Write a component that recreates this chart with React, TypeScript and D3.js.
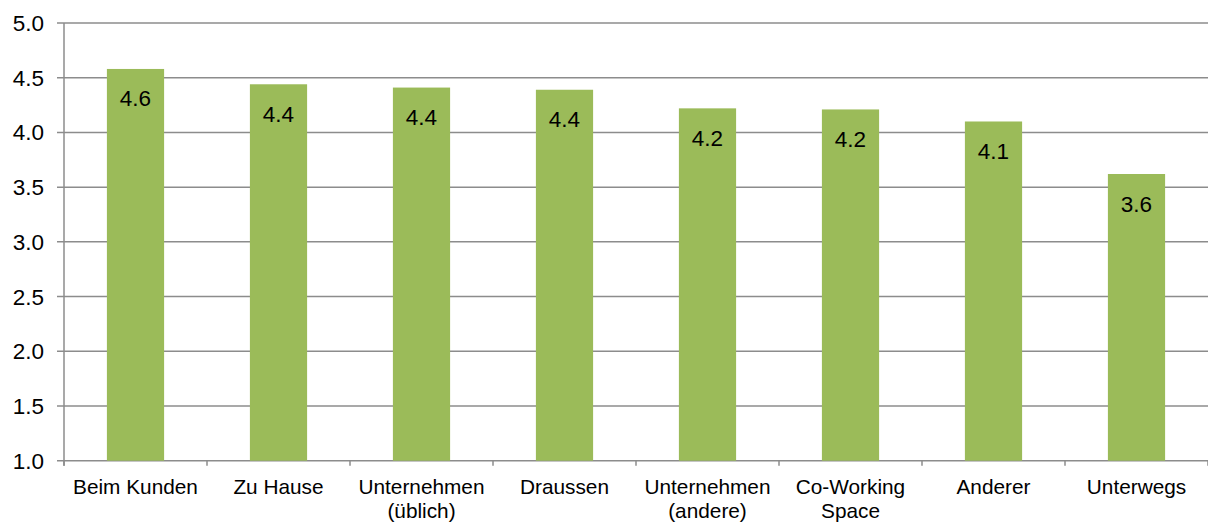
import React from "react";
import * as d3 from "d3";

const categories: string[][] = [
  ["Beim Kunden"],
  ["Zu Hause"],
  ["Unternehmen", "(üblich)"],
  ["Draussen"],
  ["Unternehmen", "(andere)"],
  ["Co-Working", "Space"],
  ["Anderer"],
  ["Unterwegs"],
];
const values: number[] = [4.58, 4.44, 4.41, 4.39, 4.22, 4.21, 4.1, 3.62];
const yTicks: number[] = [1.0, 1.5, 2.0, 2.5, 3.0, 3.5, 4.0, 4.5, 5.0];

export default function App() {
  const W = 1208;
  const H = 522;
  const left = 64;
  const right = 1208;
  const top = 23;
  const bottom = 460.7;
  const x = d3
    .scaleBand<number>()
    .domain(d3.range(categories.length))
    .range([left, right])
    .paddingInner(0.6)
    .paddingOuter(0.3);
  const y = d3.scaleLinear().domain([1, 5]).range([bottom, top]);
  const step = (right - left) / categories.length;
  const font = "'Liberation Sans', Arial, sans-serif";
  const grid = "#8c8c8c";

  return (
    <svg
      width={W}
      height={H}
      style={{ position: "absolute", left: 0, top: 0, background: "#fff" }}
      fontFamily={font}
    >
      {yTicks.map((t) => (
        <g key={t}>
          <line x1={57} x2={right} y1={y(t)} y2={y(t)} stroke={grid} strokeWidth={1.5} />
          <text x={44} y={y(t) + 8} textAnchor="end" fontSize={22.5} fill="#000">
            {t.toFixed(1)}
          </text>
        </g>
      ))}
      <line x1={left} x2={left} y1={top} y2={bottom + 5} stroke={grid} strokeWidth={1.5} />
      {d3.range(categories.length + 1).map((i) => (
        <line
          key={i}
          x1={left + i * step}
          x2={left + i * step}
          y1={bottom}
          y2={bottom + 5}
          stroke={grid}
          strokeWidth={1.5}
        />
      ))}
      {values.map((v, i) => (
        <g key={i}>
          <rect
            x={x(i)!}
            y={y(v)}
            width={x.bandwidth()}
            height={bottom - y(v)}
            fill="#9BBB59"
          />
          <text
            x={x(i)! + x.bandwidth() / 2}
            y={y(v) + 37.5}
            textAnchor="middle"
            fontSize={22.5}
            fill="#000"
          >
            {v.toFixed(1)}
          </text>
        </g>
      ))}
      {categories.map((lines, i) => (
        <text key={i} x={x(i)! + x.bandwidth() / 2} y={494} textAnchor="middle" fontSize={20.8} fill="#000">
          {lines.map((l, j) => (
            <tspan key={j} x={x(i)! + x.bandwidth() / 2} dy={j === 0 ? 0 : 23.5}>
              {l}
            </tspan>
          ))}
        </text>
      ))}
    </svg>
  );
}
